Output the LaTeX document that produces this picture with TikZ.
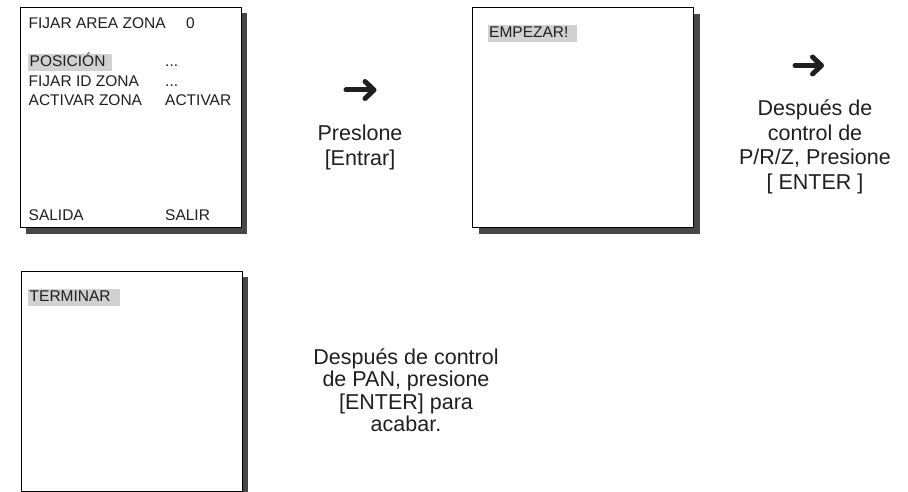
\documentclass[tikz,border=0pt]{standalone}
\usepackage{fontspec}
\setmainfont{Liberation Sans}
\usetikzlibrary{positioning,arrows.meta,shadows}
\definecolor{hlgray}{gray}{0.82}
\definecolor{inkgray}{gray}{0.12}
\newcommand{\scrfont}{\fontsize{15.5}{20}\selectfont}
\newcommand{\notefont}{\fontsize{21.5}{22.5}\selectfont}
\newcommand{\notefontwide}{\fontsize{21.5}{24.5}\selectfont}
\tikzset{
  screen/.style={draw=black,line width=1pt,fill=white,minimum width=221pt,minimum height=220pt,inner sep=0pt,
    drop shadow={shadow xshift=6pt,shadow yshift=-6pt,fill=black!72,opacity=1}},
  scrtext/.style={anchor=base west,inner sep=0pt,font=\scrfont,text=inkgray},
  hltext/.style={scrtext,fill=hlgray,inner xsep=1.5pt,inner ysep=1pt,text height=11.5pt,text depth=3.5pt,text width=#1,align=left},
  note/.style={align=center,font=\notefont,text=inkgray,inner sep=0pt},
  notewide/.style={note,font=\notefontwide},
  bigarrow/.style={draw=inkgray,line width=5pt,line cap=round,-{Straight Barb[round,length=9pt,width=17pt]}},
}
\begin{document}
\begin{tikzpicture}[x=1pt,y=-1pt]
\useasboundingbox (0,0) rectangle (908,492);

% screens
\node[screen] (scrZone) at (130.5,117.5) {};
\node[screen] (scrStart) at (583,117.75) {};
\node[screen] (scrEnd) at (131.5,381) {};

% zone menu
\node[scrtext] (mTitle) at (28.5,28.5) {FIJAR AREA ZONA};
\node[scrtext] (mTitleVal) at (186,28.5) {0};
\node[hltext=80.4pt] (mPos) at (28,67) {POSICIÓN};
\node[scrtext] (mPosVal) at (165,67) {...};
\node[scrtext] (mId) at (28.5,86.5) {FIJAR ID ZONA};
\node[scrtext] (mIdVal) at (165,86.5) {...};
\node[scrtext] (mAct) at (28.5,106) {ACTIVAR ZONA};
\node[scrtext] (mActVal) at (165,106) {ACTIVAR};
\node[scrtext] (mExit) at (28.5,220) {SALIDA};
\node[scrtext] (mExitVal) at (165,220) {SALIR};

% start / end screens
\node[hltext=86.4pt] (mStart) at (487.5,38) {EMPEZAR!};
\node[hltext=88.6pt] (mEnd) at (28,301) {TERMINAR};

% steps
\coordinate (arrAs) at (346,90);
\coordinate (arrAe) at (376.5,90);
\draw[bigarrow] (arrAs) -- (arrAe);
\node[notewide] (stepA) at (360,147.5) {Preslone\\{}[Entrar]};

\coordinate (arrBs) at (795,65.5);
\coordinate (arrBe) at (824,65.5);
\draw[bigarrow] (arrBs) -- (arrBe);
\node[notewide] (stepB) at (815,147) {Después de\\control de\\P/R/Z, Presione\\{}[ ENTER ]};

\node[note] (stepC) at (406,390) {Después de control\\de PAN, presione\\{}[ENTER] para\\acabar.};

\end{tikzpicture}
\end{document}
